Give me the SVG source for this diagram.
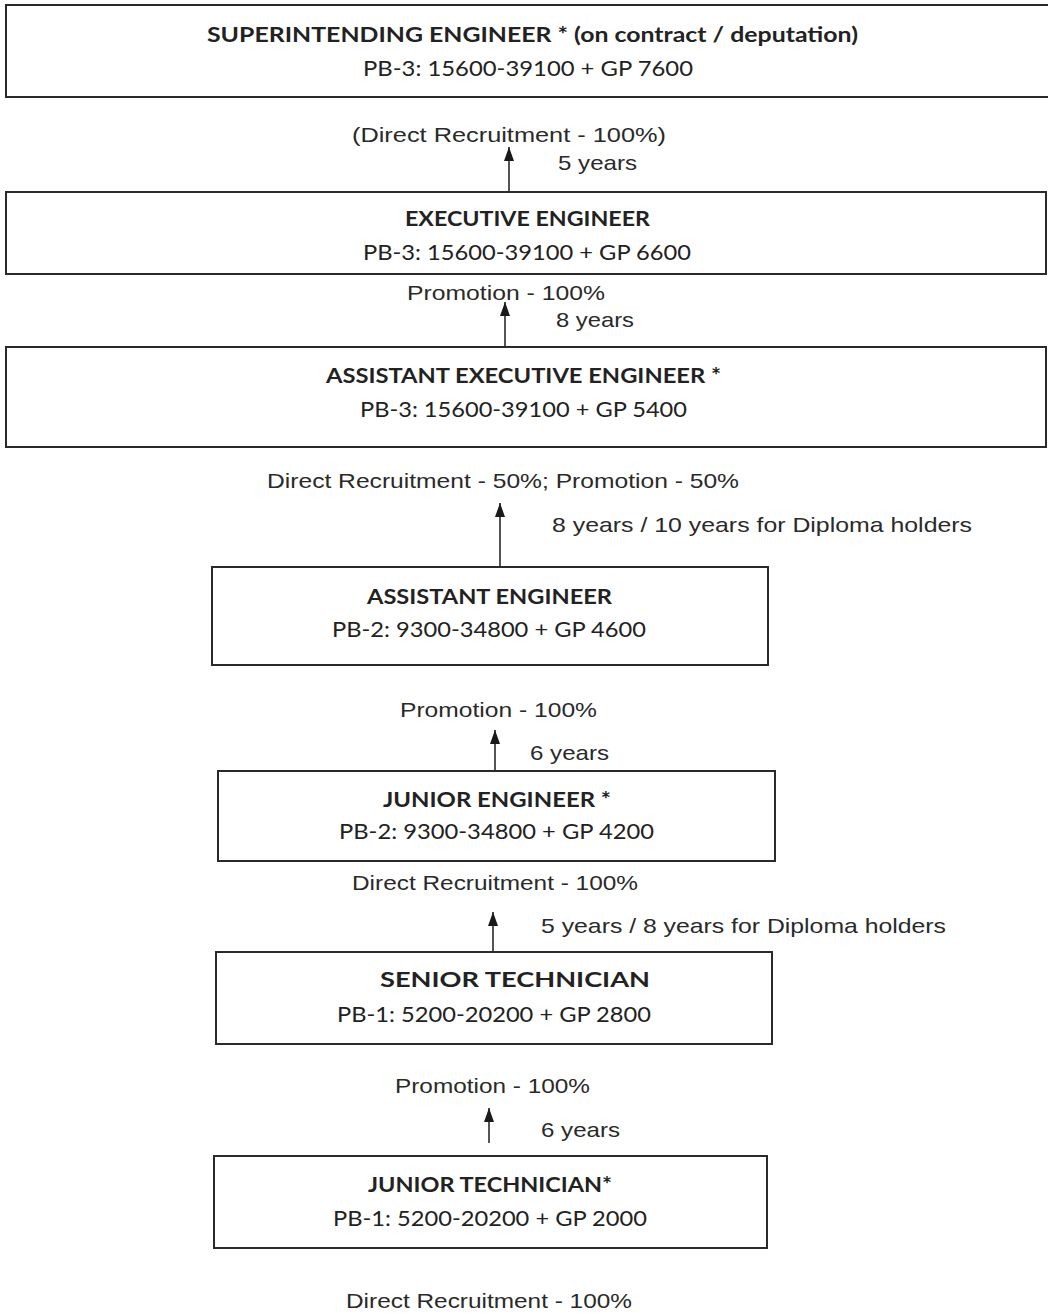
<svg xmlns="http://www.w3.org/2000/svg" width="1048" height="1314" viewBox="0 0 1048 1314">
<style>
.box{fill:#fff;stroke:#2a2a2a;stroke-width:2}
.t{font-family:Lato,"Open Sans","Liberation Sans",sans-serif;font-size:21px;fill:#222}
.tb{font-weight:bold}
.l{font-family:"Liberation Sans",Arial,sans-serif;font-size:21px;fill:#2a2a2a}
.c{stroke:#2a2a2a;stroke-width:1.6;fill:none}
</style>
<defs>
<marker id="ah" viewBox="0 0 14 10" refX="14" refY="5" markerWidth="14" markerHeight="10" markerUnits="userSpaceOnUse" orient="auto">
<path d="M0,0 L14,5 L0,10 Z" fill="#1a1a1a"/>
</marker>
</defs>
<rect width="1048" height="1314" fill="#fff"/>

<g id="superintending-engineer">
<rect class="box" x="6" y="5" width="1048" height="92"/>
<text class="t tb" x="207" y="42" textLength="651" lengthAdjust="spacingAndGlyphs">SUPERINTENDING ENGINEER * (on contract / deputation)</text>
<text class="t" x="363" y="76" textLength="330" lengthAdjust="spacingAndGlyphs">PB-3: 15600-39100 + GP 7600</text>
</g>

<g id="executive-engineer">
<rect class="box" x="6" y="192" width="1040" height="82"/>
<text class="t tb" x="405" y="226" textLength="245" lengthAdjust="spacingAndGlyphs">EXECUTIVE ENGINEER</text>
<text class="t" x="363" y="260" textLength="328" lengthAdjust="spacingAndGlyphs">PB-3: 15600-39100 + GP 6600</text>
</g>

<g id="assistant-executive-engineer">
<rect class="box" x="6" y="347" width="1040" height="100"/>
<text class="t tb" x="326" y="383" textLength="395" lengthAdjust="spacingAndGlyphs">ASSISTANT EXECUTIVE ENGINEER *</text>
<text class="t" x="360" y="417" textLength="327" lengthAdjust="spacingAndGlyphs">PB-3: 15600-39100 + GP 5400</text>
</g>

<g id="assistant-engineer">
<rect class="box" x="212" y="567" width="556" height="98"/>
<text class="t tb" x="367" y="604" textLength="245" lengthAdjust="spacingAndGlyphs">ASSISTANT ENGINEER</text>
<text class="t" x="332" y="637" textLength="314" lengthAdjust="spacingAndGlyphs">PB-2: 9300-34800 + GP 4600</text>
</g>

<g id="junior-engineer">
<rect class="box" x="218" y="771" width="557" height="90"/>
<text class="t tb" x="383" y="807" textLength="228" lengthAdjust="spacingAndGlyphs">JUNIOR ENGINEER *</text>
<text class="t" x="339" y="839" textLength="315" lengthAdjust="spacingAndGlyphs">PB-2: 9300-34800 + GP 4200</text>
</g>

<g id="senior-technician">
<rect class="box" x="216" y="952" width="556" height="92"/>
<text class="t tb" x="380" y="987" textLength="270" lengthAdjust="spacingAndGlyphs">SENIOR TECHNICIAN</text>
<text class="t" x="337" y="1022" textLength="314" lengthAdjust="spacingAndGlyphs">PB-1: 5200-20200 + GP 2800</text>
</g>

<g id="junior-technician">
<rect class="box" x="214" y="1156" width="553" height="92"/>
<text class="t tb" x="368" y="1192" textLength="244" lengthAdjust="spacingAndGlyphs">JUNIOR TECHNICIAN*</text>
<text class="t" x="333" y="1226" textLength="314" lengthAdjust="spacingAndGlyphs">PB-1: 5200-20200 + GP 2000</text>
</g>

<g id="connectors">
<line class="c" x1="509" y1="191" x2="509" y2="147" marker-end="url(#ah)"/>
<line class="c" x1="505" y1="346" x2="505" y2="302" marker-end="url(#ah)"/>
<line class="c" x1="500" y1="566" x2="500" y2="503" marker-end="url(#ah)"/>
<line class="c" x1="495" y1="770" x2="495" y2="730" marker-end="url(#ah)"/>
<line class="c" x1="493" y1="951" x2="493" y2="912" marker-end="url(#ah)"/>
<line class="c" x1="489" y1="1143" x2="489" y2="1108" marker-end="url(#ah)"/>
</g>

<g id="labels">
<text class="l" x="352" y="142" textLength="314" lengthAdjust="spacingAndGlyphs">(Direct Recruitment  - 100%)</text>
<text class="l" x="558" y="170" textLength="79" lengthAdjust="spacingAndGlyphs">5 years</text>
<text class="l" x="407" y="300" textLength="198" lengthAdjust="spacingAndGlyphs">Promotion - 100%</text>
<text class="l" x="556" y="327" textLength="78" lengthAdjust="spacingAndGlyphs">8 years</text>
<text class="l" x="267" y="488" textLength="472" lengthAdjust="spacingAndGlyphs">Direct Recruitment - 50%; Promotion - 50%</text>
<text class="l" x="552" y="532" textLength="420" lengthAdjust="spacingAndGlyphs">8 years / 10 years for Diploma holders</text>
<text class="l" x="400" y="717" textLength="197" lengthAdjust="spacingAndGlyphs">Promotion - 100%</text>
<text class="l" x="530" y="760" textLength="79" lengthAdjust="spacingAndGlyphs">6 years</text>
<text class="l" x="352" y="890" textLength="286" lengthAdjust="spacingAndGlyphs">Direct Recruitment - 100%</text>
<text class="l" x="541" y="933" textLength="405" lengthAdjust="spacingAndGlyphs">5 years / 8 years for Diploma holders</text>
<text class="l" x="395" y="1093" textLength="195" lengthAdjust="spacingAndGlyphs">Promotion - 100%</text>
<text class="l" x="541" y="1137" textLength="79" lengthAdjust="spacingAndGlyphs">6 years</text>
<text class="l" x="346" y="1308" textLength="286" lengthAdjust="spacingAndGlyphs">Direct Recruitment - 100%</text>
</g>
</svg>
